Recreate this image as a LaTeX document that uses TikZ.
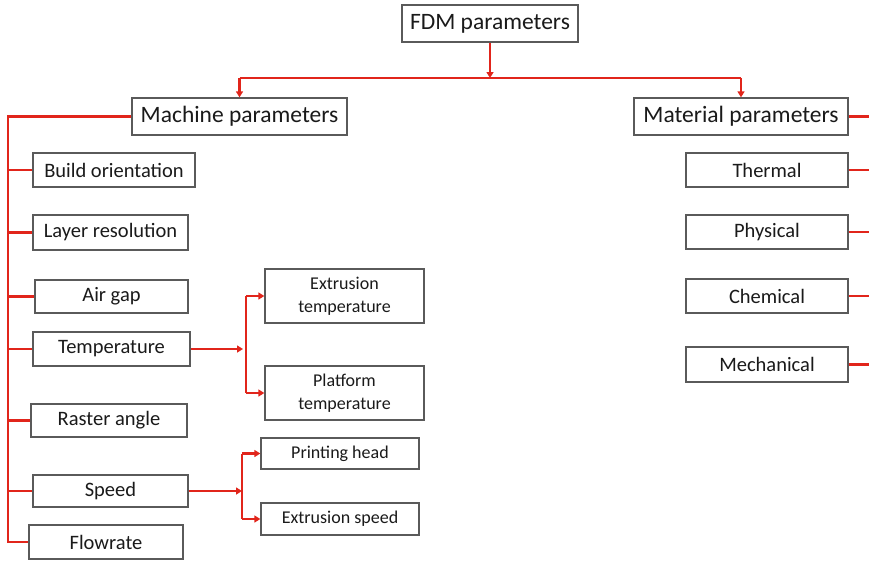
\documentclass[tikz,border=0pt]{standalone}
\usepackage{fontspec}
\setmainfont{Carlito}
\usetikzlibrary{arrows.meta}
\definecolor{linered}{HTML}{E1251B}
\definecolor{boxgray}{HTML}{5A5A5A}
\definecolor{txt}{HTML}{1A1A1A}
\begin{document}
\begin{tikzpicture}[x=1pt,y=-1pt,
  bx/.style={draw=boxgray,line width=1.3pt,fill=white,inner sep=0pt,text=txt,anchor=center},
  topbox/.style={bx,font=\fontsize{23.5}{26}\selectfont},
  midbox/.style={bx,font=\fontsize{20.5}{24}\selectfont},
  subbox/.style={bx,font=\fontsize{18}{23}\selectfont,align=center},
  conn/.style={draw=linered,line width=2.4pt},
  arr/.style={conn,-{Triangle[width=7pt,length=6pt]}}]
\useasboundingbox (0,0) rectangle (869,560);
% top level
\node[topbox,minimum width=176pt,minimum height=37pt] (fdm) at (490,23.5) {FDM parameters};
\node[topbox,minimum width=215pt,minimum height=37pt] (mach) at (239.5,116.5) {Machine parameters};
\node[topbox,minimum width=214pt,minimum height=37pt] (mat) at (741,116.5) {Material parameters};
% machine children
\node[midbox,minimum width=162pt,minimum height=34pt] (build) at (114,170) {Build orientation};
\node[midbox,minimum width=155pt,minimum height=35pt] (layer) at (110.5,232.5) {Layer resolution};
\node[midbox,minimum width=153pt,minimum height=33pt] (air) at (111.5,296.5) {Air gap};
\node[midbox,minimum width=157pt,minimum height=34pt] (temp) at (111.5,349) {Temperature};
\node[midbox,minimum width=156pt,minimum height=33pt] (raster) at (109,420.5) {Raster angle};
\node[midbox,minimum width=155pt,minimum height=32pt] (speed) at (110.5,491) {Speed};
\node[midbox,minimum width=154pt,minimum height=34pt] (flow) at (106,542) {Flowrate};
% sub children
\node[subbox,minimum width=159pt,minimum height=54pt] (ext) at (344.5,296) {Extrusion\\temperature};
\node[subbox,minimum width=159pt,minimum height=54pt] (plat) at (344.5,393) {Platform\\temperature};
\node[subbox,minimum width=158pt,minimum height=31pt] (head) at (340,453.5) {Printing head};
\node[subbox,minimum width=158pt,minimum height=32pt] (exsp) at (340,519) {Extrusion speed};
% material children
\node[midbox,minimum width=162pt,minimum height=34pt] (therm) at (767,170) {Thermal};
\node[midbox,minimum width=162pt,minimum height=34pt] (phys) at (767,232) {Physical};
\node[midbox,minimum width=162pt,minimum height=34pt] (chem) at (767,296) {Chemical};
\node[midbox,minimum width=162pt,minimum height=35pt] (mech) at (767,364.5) {Mechanical};
% coordinates
\coordinate (bus) at (490,78);
\coordinate (lt) at (8,116.5);
\coordinate (lb) at (8,542);
\coordinate (rt) at (870,0);
\coordinate (tj) at (246,349);
\coordinate (sj) at (242,491);
% top connectors
\draw[conn] (mach.north |- bus) -- (mat.north |- bus);
\draw[arr] (fdm.south) -- (bus);
\draw[arr] (mach.north |- bus) -- (mach.north);
\draw[arr] (mat.north |- bus) -- (mat.north);
% left trunk
\draw[conn] (mach.west) -- (lt) -- (lb) -- (flow.west);
\foreach \n in {build,layer,air,temp,raster,speed}
  \draw[conn] (\n.west) -- (\n.west -| lt);
% right stubs
\foreach \n in {mat,therm,phys,chem,mech}
  \draw[conn] (\n.east) -- (\n.east -| rt);
% temperature branch
\draw[arr,shorten >=3pt] (temp.east) -- (tj);
\draw[conn] (tj |- ext.west) -- (tj |- plat.west);
\draw[arr] (tj |- ext.west) -- (ext.west);
\draw[arr] (tj |- plat.west) -- (plat.west);
% speed branch
\draw[arr] (speed.east) -- (sj);
\draw[conn] (sj |- head.west) -- (sj |- exsp.west);
\draw[arr] (sj |- head.west) -- (head.west);
\draw[arr] (sj |- exsp.west) -- (exsp.west);
\end{tikzpicture}
\end{document}
